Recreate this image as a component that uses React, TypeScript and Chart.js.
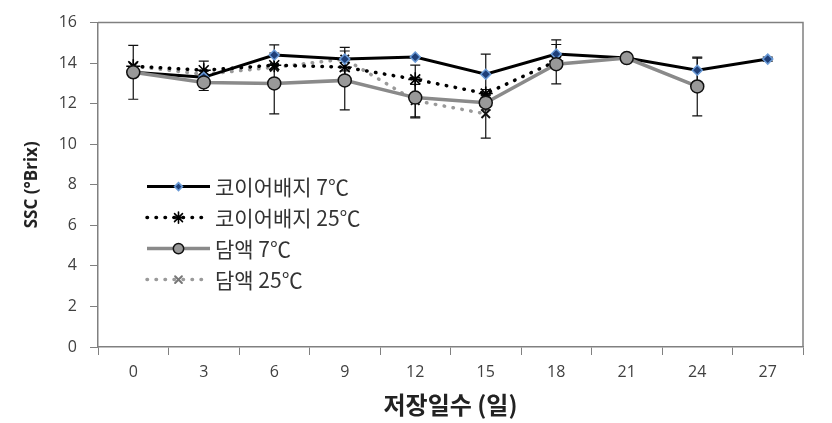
import React, { useEffect, useRef } from "react";
import { Chart, registerables } from "chart.js";
import { drawPoint } from "chart.js/helpers";

Chart.register(...registerables);

const days = ["0", "3", "6", "9", "12", "15", "18", "21", "24", "27"];
const yTicks = [0, 2, 4, 6, 8, 10, 12, 14, 16];

const coir7 = [13.55, 13.3, 14.4, 14.2, 14.3, 13.45, 14.45, 14.25, 13.65, 14.2];
const coir7Err = [0, 0.3, 0.5, 0.58, 0, 1.0, 0.7, 0.1, 0.6, 0.1];
const coir25 = [13.85, 13.65, 13.9, 13.8, 13.2, 12.5, 14.1, null, null, null];
const coir25Err = [0, 0.45, 0, 0, 0.7, 0, 0, 0, 0, 0];
const nutri7 = [13.55, 13.05, 13.0, 13.15, 12.3, 12.05, 13.95, 14.25, 12.85, null];
const nutri7Err = [1.33, 0.4, 1.5, 1.45, 1.0, 0.35, 0.97, 0.2, 1.45, 0];
const nutri25 = [13.85, 13.45, 13.8, 14.2, 12.15, 11.5, null, null, null, null];
const nutri25Err = [0, 0, 0, 0, 0.8, 1.2, 0, 0, 0, 0];

const seriesNames = ["코이어배지 7℃", "코이어배지 25℃", "담액 7℃", "담액 25℃"];
const errs = [coir7Err, coir25Err, nutri7Err, nutri25Err];

const errorBarPlugin = {
  id: "errorBars",
  beforeDatasetsDraw(chart: any) {
    const { ctx } = chart;
    const y = chart.scales.y;
    ctx.save();
    ctx.strokeStyle = "#111";
    ctx.lineWidth = 1.2;
    chart.data.datasets.forEach((ds: any, di: number) => {
      const meta = chart.getDatasetMeta(di);
      const e = errs[di];
      ds.data.forEach((v: any, i: number) => {
        if (v == null || !e[i]) return;
        const px = meta.data[i].x;
        const top = y.getPixelForValue(v + e[i]);
        const bot = y.getPixelForValue(v - e[i]);
        ctx.beginPath();
        ctx.moveTo(px, top);
        ctx.lineTo(px, bot);
        ctx.moveTo(px - 5, top);
        ctx.lineTo(px + 5, top);
        ctx.moveTo(px - 5, bot);
        ctx.lineTo(px + 5, bot);
        ctx.stroke();
      });
    });
    ctx.restore();
  },
};

const legendMarkerColors = ["#1f3f78", "#000", "#999999", "#777"];

const frameLegendPlugin = {
  id: "frameLegend",
  afterDraw(chart: any) {
    const { ctx, chartArea } = chart;
    ctx.save();
    ctx.strokeStyle = "#808080";
    ctx.lineWidth = 1.5;
    ctx.beginPath();
    ctx.moveTo(chartArea.left, chartArea.top);
    ctx.lineTo(chartArea.right, chartArea.top);
    ctx.lineTo(chartArea.right, chartArea.bottom);
    ctx.stroke();

    const x0 = chartArea.left + 49;
    const x1 = x0 + 63;
    chart.data.datasets.forEach((ds: any, i: number) => {
      const yy = chartArea.top + 164 + i * 31;
      ctx.save();
      ctx.strokeStyle = ds.borderColor;
      ctx.lineWidth = ds.borderWidth;
      ctx.lineCap = ds.borderDash && ds.borderDash.length ? "round" : "butt";
      ctx.setLineDash(ds.borderDash || []);
      ctx.beginPath();
      ctx.moveTo(x0, yy);
      ctx.lineTo(x1, yy);
      ctx.stroke();
      ctx.setLineDash([]);
      ctx.fillStyle = ds.pointBackgroundColor;
      ctx.strokeStyle = i === 3 ? legendMarkerColors[3] : ds.pointBorderColor;
      ctx.lineWidth = ds.pointBorderWidth;
      drawPoint(
        ctx,
        {
          pointStyle: ds.pointStyle,
          radius: ds.pointRadius * 0.8,
          rotation: 0,
          borderWidth: ds.pointBorderWidth,
        } as any,
        (x0 + x1) / 2,
        yy
      );
      ctx.restore();
      ctx.fillStyle = "#333";
      ctx.font = "21px 'Noto Sans CJK KR'";
      ctx.textBaseline = "middle";
      ctx.textAlign = "left";
      ctx.fillText(seriesNames[i], x1 + 5, yy);
    });
    ctx.restore();
  },
};

export default function App() {
  const ref = useRef<HTMLCanvasElement>(null);
  useEffect(() => {
    document.body.style.margin = "0";
    const chart = new Chart(ref.current!, {
      type: "line",
      data: {
        labels: days,
        datasets: [
          {
            label: seriesNames[0],
            data: coir7,
            borderColor: "#000",
            borderWidth: 3,
            pointStyle: "rectRot",
            pointRadius: 5,
            pointBackgroundColor: "#1f3f78",
            pointBorderColor: "#6a9ad6",
            pointBorderWidth: 1.5,
            order: 1,
          },
          {
            label: seriesNames[1],
            data: coir25,
            borderColor: "#000",
            borderWidth: 3.5,
            borderDash: [0.5, 8.5],
            borderCapStyle: "round",
            pointStyle: "star",
            pointRadius: 7,
            pointBackgroundColor: "#000",
            pointBorderColor: "#000",
            pointBorderWidth: 1.6,
            order: 2,
          },
          {
            label: seriesNames[2],
            data: nutri7,
            borderColor: "#8a8a8a",
            borderWidth: 3.5,
            pointStyle: "circle",
            pointRadius: 6.5,
            pointBackgroundColor: "#999999",
            pointBorderColor: "#111",
            pointBorderWidth: 1.5,
            order: 0,
          },
          {
            label: seriesNames[3],
            data: nutri25,
            borderColor: "#9a9a9a",
            borderWidth: 3.5,
            borderDash: [0.5, 8.5],
            borderCapStyle: "round",
            pointStyle: "crossRot",
            pointRadius: 6,
            pointBackgroundColor: "#111",
            pointBorderColor: "#111",
            pointBorderWidth: 2,
            order: 3,
          },
        ] as any,
      },
      options: {
        animation: false,
        responsive: true,
        maintainAspectRatio: false,
        layout: { padding: { left: 0, right: 29, top: 22, bottom: 0 } },
        plugins: { legend: { display: false }, tooltip: { enabled: false } },
        elements: { line: { tension: 0 } },
        scales: {
          x: {
            type: "category",
            offset: true,
            grid: {
              offset: true,
              drawOnChartArea: false,
              drawTicks: true,
              tickLength: 8,
              color: "#808080",
            },
            border: { color: "#808080", width: 1.5 },
            ticks: {
              color: "#404040",
              font: { family: "'Open Sans'", size: 16 },
              padding: 8,
              maxRotation: 0,
            },
            title: {
              display: true,
              text: "저장일수 (일)",
              color: "#222",
              font: { family: "'Noto Sans CJK KR'", size: 24, weight: "bold" },
              padding: { top: 0, bottom: 4 },
            },
            afterFit: (s: any) => {
              s.height = 76;
            },
          },
          y: {
            min: 0,
            max: 16,
            afterBuildTicks: (s: any) => {
              s.ticks = yTicks.map((v) => ({ value: v }));
            },
            grid: {
              drawOnChartArea: false,
              drawTicks: true,
              tickLength: 8,
              color: "#808080",
            },
            border: { color: "#808080", width: 1.5 },
            ticks: {
              color: "#404040",
              font: { family: "'Open Sans'", size: 16 },
              padding: 13,
            },
            title: {
              display: true,
              text: "SSC (°Brix)",
              color: "#222",
              font: { family: "'Open Sans'", size: 17, weight: "bold" },
              padding: { top: 22, bottom: 0 },
            },
            afterFit: (s: any) => {
              s.width = 98;
            },
          },
        },
      },
      plugins: [errorBarPlugin, frameLegendPlugin],
    });
    return () => chart.destroy();
  }, []);
  return (
    <div style={{ position: "fixed", left: 0, top: 0, width: 832, height: 423 }}>
      <canvas ref={ref} />
    </div>
  );
}
